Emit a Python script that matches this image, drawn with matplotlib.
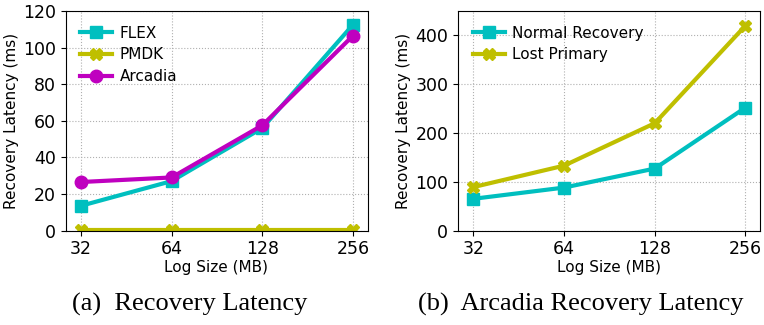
import matplotlib
matplotlib.use('Agg')
import matplotlib.pyplot as plt

# data
sizes = ['32', '64', '128', '256']
flex = [13.5, 27, 56, 112.5]
pmdk = [0.3, 0.3, 0.3, 0.3]
arcadia = [26.5, 29, 57.5, 106.5]
normal = [65, 88, 127, 252]
lost = [89, 133, 220, 420]

fig = plt.figure(figsize=(7.64, 3.25), dpi=100)
ax1 = fig.add_axes([65.5/764, 1 - 230.5/325, 302/764, 219.5/325])
ax2 = fig.add_axes([458/764, 1 - 230.5/325, 302/764, 219.5/325])

x = list(range(len(sizes)))
lw = 3
ms = 9

ax1.plot(x, flex, color='c', marker='s', lw=lw, ms=ms, label='FLEX')
ax1.plot(x, pmdk, color='y', marker='X', lw=lw, ms=ms, label='PMDK')
ax1.plot(x, arcadia, color='m', marker='o', lw=lw, ms=ms, label='Arcadia')
ax1.set_ylim(0, 120)
ax1.set_yticks([0, 20, 40, 60, 80, 100, 120])

ax2.plot(x, normal, color='c', marker='s', lw=lw, ms=ms, label='Normal Recovery')
ax2.plot(x, lost, color='y', marker='X', lw=lw, ms=ms, label='Lost Primary')
ax2.set_ylim(0, 450)
ax2.set_yticks([0, 100, 200, 300, 400])

for ax in (ax1, ax2):
    ax.set_xlim(-0.17, 3.16)
    ax.set_xticks(x)
    ax.set_xticklabels(sizes)
    ax.tick_params(labelsize=12.5)
    ax.set_xlabel('Log Size (MB)', fontsize=11, labelpad=1)
    ax.set_ylabel('Recovery Latency (ms)', fontsize=11, labelpad=3)
    ax.grid(True, linestyle=':', color='#b0b0b0', lw=0.8)
    ax.legend(loc='upper left', fontsize=11, frameon=False,
              handlelength=2.1, handletextpad=0.5, borderaxespad=0.55,
              labelspacing=0.45)

fig.text(72/764, 1 - 304/325, '(a)  Recovery Latency', ha='left', va='center',
         fontsize=19, family='Liberation Serif')
fig.text(418/764, 1 - 304/325, '(b)  Arcadia Recovery Latency', ha='left', va='center',
         fontsize=19, family='Liberation Serif')

fig.savefig('out.png', dpi=100)
